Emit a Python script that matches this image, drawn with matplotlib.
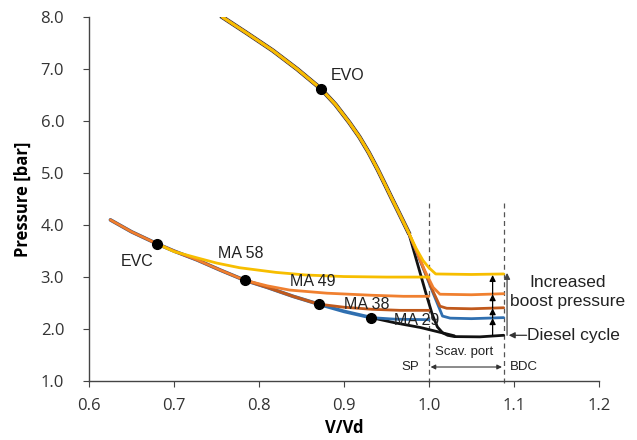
import matplotlib
matplotlib.use("Agg")
import matplotlib.pyplot as plt

# ---------------- data ----------------
# common expansion branch (all cases overlap)
exp_common_x = [0.757, 0.785, 0.816, 0.845, 0.873, 0.890, 0.906, 0.918, 0.929, 0.940,
                0.949, 0.957, 0.964, 0.970, 0.976]
exp_common_p = [8.00, 7.70, 7.36, 7.00, 6.62, 6.32, 5.98, 5.70, 5.40, 5.06,
                4.76, 4.49, 4.26, 4.06, 3.86]

# individual end of expansion / scavenging branches
exp_black_x = [0.983, 0.990, 0.997, 1.004, 1.010, 1.016, 1.022, 1.030, 1.060, 1.088]
exp_black_p = [3.46, 3.06, 2.66, 2.28, 2.04, 1.93, 1.88, 1.855, 1.85, 1.88]
exp_blue_x = [0.985, 0.995, 1.005, 1.016, 1.025, 1.050, 1.088]
exp_blue_p = [3.50, 3.10, 2.69, 2.25, 2.21, 2.20, 2.22]
exp_brown_x = [0.985, 0.995, 1.005, 1.013, 1.021, 1.050, 1.088]
exp_brown_p = [3.51, 3.11, 2.72, 2.44, 2.40, 2.39, 2.41]
exp_orange_x = [0.985, 0.995, 1.005, 1.013, 1.050, 1.088]
exp_orange_p = [3.52, 3.13, 2.80, 2.67, 2.66, 2.68]
exp_yellow_x = [0.985, 0.993, 1.000, 1.008, 1.050, 1.088]
exp_yellow_p = [3.55, 3.32, 3.18, 3.06, 3.05, 3.06]

# compression branch, common part up to EVC of each case
comp_common_x = [0.625, 0.650, 0.680, 0.700, 0.727, 0.755, 0.783, 0.810, 0.840, 0.870, 0.900, 0.932]
comp_common_p = [4.10, 3.87, 3.64, 3.50, 3.33, 3.13, 2.94, 2.80, 2.63, 2.48, 2.34, 2.22]
comp_yellow_x = [0.680, 0.700, 0.727, 0.750, 0.777, 0.820, 0.855, 0.900, 0.950, 1.000]
comp_yellow_p = [3.64, 3.49, 3.37, 3.27, 3.18, 3.09, 3.04, 3.01, 3.00, 3.00]
comp_orange_x = [0.783, 0.810, 0.836, 0.880, 0.933, 0.970, 1.000]
comp_orange_p = [2.94, 2.83, 2.75, 2.69, 2.65, 2.63, 2.63]
comp_brown_x = [0.870, 0.900, 0.933, 0.966, 1.000]
comp_brown_p = [2.48, 2.42, 2.38, 2.36, 2.36]
comp_blue_x = [0.932, 0.960, 1.000]
comp_blue_p = [2.22, 2.19, 2.18]
comp_black_x = [0.932, 0.960, 0.990, 1.010, 1.030]
comp_black_p = [2.22, 2.12, 2.03, 1.95, 1.87]

# valve timing points
evo_point = (0.873, 6.62)
evc_points_x = [0.680, 0.783, 0.870, 0.932]
evc_points_p = [3.64, 2.94, 2.48, 2.22]

# boost levels at BDC
boost_levels = [1.88, 2.21, 2.40, 2.67, 3.04]

xticks = [0.6, 0.7, 0.8, 0.9, 1.0, 1.1, 1.2]
yticks = [1.0, 2.0, 3.0, 4.0, 5.0, 6.0, 7.0, 8.0]

SP_X = 1.0
BDC_X = 1.088

# ---------------- plot ----------------
fig = plt.figure(figsize=(6.37, 4.4), dpi=100)
ax = fig.add_axes([0.140, 0.134, 0.800, 0.827])

colors = {
    "black": "#111111",
    "blue": "#2F6FB0",
    "brown": "#C0591C",
    "orange": "#F08030",
    "yellow": "#F7BE00",
}
lw = 2.0

series = [
    ("black", exp_black_x, exp_black_p, comp_black_x, comp_black_p),
    ("blue", exp_blue_x, exp_blue_p, comp_blue_x, comp_blue_p),
    ("brown", exp_brown_x, exp_brown_p, comp_brown_x, comp_brown_p),
    ("orange", exp_orange_x, exp_orange_p, comp_orange_x, comp_orange_p),
    ("yellow", exp_yellow_x, exp_yellow_p, comp_yellow_x, comp_yellow_p),
]

# common compression line (blue under, then brown/orange on top)
ax.plot(comp_common_x, comp_common_p, color=colors["blue"], lw=lw + 0.6, zorder=2,
        solid_capstyle="round", solid_joinstyle="round")
ax.plot(comp_common_x[:10], comp_common_p[:10], color=colors["brown"], lw=lw + 0.2, zorder=2.2,
        solid_capstyle="round", solid_joinstyle="round")
ax.plot(comp_common_x[:7], comp_common_p[:7], color=colors["orange"], lw=lw - 0.4, zorder=2.3,
        solid_capstyle="round", solid_joinstyle="round")

for i, (name, ex, ep, cx, cp) in enumerate(series):
    z = 2 + i * 0.1
    ax.plot(exp_common_x + ex, exp_common_p + ep, color=colors[name], lw=lw, zorder=z,
            solid_capstyle="round", solid_joinstyle="round")
    ax.plot(cx, cp, color=colors[name], lw=lw, zorder=z, solid_capstyle="round",
            solid_joinstyle="round")
# dark edge on the overlapped expansion bundle
ax.plot(exp_common_x, exp_common_p, color="#3a3a3a", lw=lw + 1.2, zorder=1.9,
        solid_joinstyle="round")

# points
ax.plot([evo_point[0]], [evo_point[1]], "o", color="black", ms=7, zorder=5)
ax.plot(evc_points_x, evc_points_p, "o", color="black", ms=7, zorder=5)

# text labels
tfont = dict(family="Liberation Sans", fontsize=11.5, color="#222222")
ax.text(0.904, 6.88, "EVO", ha="center", va="center", **tfont)
ax.text(0.656, 3.29, "EVC", ha="center", va="center", **tfont)
ax.text(0.778, 3.46, "MA 58", ha="center", va="center", **tfont)
ax.text(0.863, 2.92, "MA 49", ha="center", va="center", **tfont)
ax.text(0.927, 2.48, "MA 38", ha="center", va="center", **tfont)
ax.text(0.985, 2.17, "MA 29", ha="center", va="center", **tfont)

# dashed vertical lines SP and BDC
for xv in (SP_X, BDC_X):
    ax.plot([xv, xv], [0.97, 4.42], ls=(0, (4, 3)), color="#555555", lw=0.9, zorder=1,
            clip_on=False)

# increased boost arrows
arrow_x = 1.075
for lo, hi in zip(boost_levels[:-1], boost_levels[1:]):
    ax.annotate("", xy=(arrow_x, hi), xytext=(arrow_x, lo),
                arrowprops=dict(arrowstyle="-|>", color="black", lw=0.9,
                                mutation_scale=9, shrinkA=0, shrinkB=0), zorder=6)
ax.annotate("", xy=(1.092, 3.08), xytext=(1.092, 1.88),
            arrowprops=dict(arrowstyle="-|>", color="#444444", lw=0.9,
                            mutation_scale=9, shrinkA=0, shrinkB=0), zorder=6)
ax.annotate("", xy=(1.094, 1.88), xytext=(1.115, 1.88),
            arrowprops=dict(arrowstyle="-|>", color="#333333", lw=0.9,
                            mutation_scale=9, shrinkA=0, shrinkB=0), zorder=6)

bfont = dict(family="Liberation Sans", fontsize=12.5, color="#222222")
ax.text(1.163, 2.90, "Increased", ha="center", va="center", **bfont)
ax.text(1.163, 2.53, "boost pressure", ha="center", va="center", **bfont)
ax.text(1.116, 1.88, "Diesel cycle", ha="left", va="center", **bfont)

sfont = dict(family="Liberation Sans", fontsize=9.5, color="#222222")
ax.text(1.042, 1.55, "Scav. port", ha="center", va="center", **sfont)
ax.annotate("", xy=(SP_X + 0.002, 1.27), xytext=(BDC_X - 0.002, 1.27),
            arrowprops=dict(arrowstyle="<|-|>", color="#333333", lw=0.8,
                            mutation_scale=7, shrinkA=0, shrinkB=0))
ax.text(0.988, 1.27, "SP", ha="right", va="center", **sfont)
ax.text(1.095, 1.27, "BDC", ha="left", va="center", **sfont)

# axes styling
ax.set_xlim(0.6, 1.2)
ax.set_ylim(1.0, 8.0)
ax.set_xticks(xticks)
ax.set_yticks(yticks)
ax.set_xticklabels([f"{v:.1f}" for v in xticks])
ax.set_yticklabels([f"{v:.1f}" for v in yticks])
for s in ("top", "right"):
    ax.spines[s].set_visible(False)
for s in ("left", "bottom"):
    ax.spines[s].set_color("#444444")
    ax.spines[s].set_linewidth(1.0)
ax.tick_params(axis="y", direction="out", length=4, width=0.8, color="#444444",
               pad=14, labelsize=12, labelcolor="#333333")
ax.tick_params(axis="x", direction="out", length=4, width=0.8, color="#444444",
               pad=8, labelsize=12, labelcolor="#333333")
for lab in ax.get_xticklabels() + ax.get_yticklabels():
    lab.set_family("Open Sans")
ax.set_xlabel("V/Vd", fontsize=12, fontweight="bold", family="Open Sans", labelpad=4)
ax.set_ylabel("Pressure [bar]", fontsize=12, fontweight="bold", family="Open Sans",
              labelpad=6)

fig.savefig("out.png", dpi=100)
